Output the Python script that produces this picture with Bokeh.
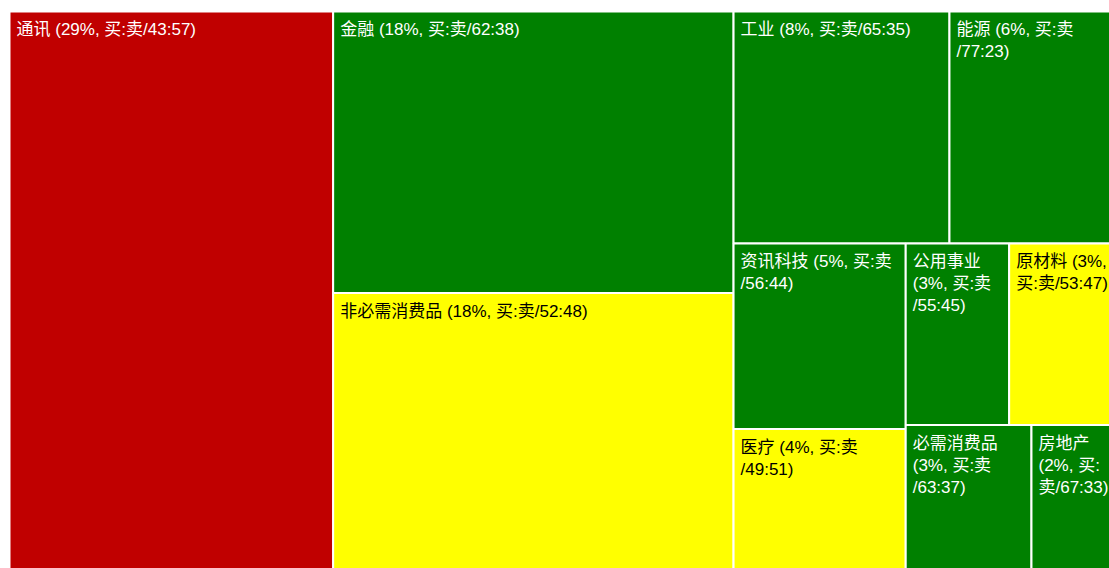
from bokeh.plotting import figure
from bokeh.models import ColumnDataSource, Range1d
from bokeh.core.properties import value
from bokeh.embed import file_html
from bokeh.resources import INLINE

# ---- data ----
sectors = ["通讯", "金融", "非必需消费品", "工业", "能源", "资讯科技", "医疗",
           "公用事业", "原材料", "必需消费品", "房地产"]
weight = [29.1, 18.0, 18.0, 8.0, 6.3, 5.1, 4.0, 3.0, 3.2, 3.0, 2.1]   # area share (%)
pct = [29, 18, 18, 8, 6, 5, 4, 3, 3, 3, 2]                           # shown share (%)
buy = [43, 62, 52, 65, 77, 56, 49, 55, 53, 63, 67]
sell = [57, 38, 48, 35, 23, 44, 51, 45, 47, 37, 33]

# ---- layout constants ----
TW, TH = 1110.0, 563.0          # full treemap size (px), partly beyond the window
FIG_W, FIG_H = 1109, 568
OX, OY = 9, 11                   # treemap origin on the page
FS = 17                          # font size px
PAD_X, PAD_Y = 7, 8.5


def squarify(sizes, x, y, dx, dy):
    def layoutrow(s, x, y, dx, dy):
        w = sum(s) / dy
        out = []
        for v in s:
            out.append((x, y, w, v / w)); y += v / w
        return out

    def layoutcol(s, x, y, dx, dy):
        h = sum(s) / dx
        out = []
        for v in s:
            out.append((x, y, v / h, h)); x += v / h
        return out

    def layout(s, x, y, dx, dy):
        return layoutrow(s, x, y, dx, dy) if dx >= dy else layoutcol(s, x, y, dx, dy)

    def leftover(s, x, y, dx, dy):
        if dx >= dy:
            w = sum(s) / dy
            return x + w, y, dx - w, dy
        h = sum(s) / dx
        return x, y + h, dx, dy - h

    def worst(s, x, y, dx, dy):
        return max(max(r[2] / r[3], r[3] / r[2]) for r in layout(s, x, y, dx, dy))

    if not sizes:
        return []
    if len(sizes) == 1:
        return layout(sizes, x, y, dx, dy)
    i = 1
    while i < len(sizes) and worst(sizes[:i], x, y, dx, dy) >= worst(sizes[:i + 1], x, y, dx, dy):
        i += 1
    cur, rem = sizes[:i], sizes[i:]
    return layout(cur, x, y, dx, dy) + squarify(rem, *leftover(cur, x, y, dx, dy))


ARIAL = {" ": .278, "(": .333, ")": .333, "%": .889, ",": .278, ":": .278, "/": .278}


def is_cjk(ch):
    return ord(ch) >= 0x2E80


def cw(ch):
    return FS if is_cjk(ch) else ARIAL.get(ch, .556) * FS


def tw(s):
    return sum(cw(c) for c in s.rstrip())


def wrap(s, avail):
    segs, cur = [], s[0]
    for i in range(1, len(s)):
        a, b = s[i - 1], s[i]
        brk = False
        if a == " ":
            brk = True
        elif b == " " or b in ",:)%" or a == "(":
            brk = False
        elif is_cjk(a) or is_cjk(b):
            brk = True
        if brk:
            segs.append(cur); cur = b
        else:
            cur += b
    segs.append(cur)
    lines, line = [], ""
    for sg in segs:
        if line and tw(line + sg) > avail:
            lines.append(line.rstrip()); line = sg
        else:
            line += sg
    lines.append(line.rstrip())
    return "\n".join(lines)


total = sum(weight)
areas = [w / total * TW * TH for w in weight]
rects = squarify(areas, 0.0, 0.0, TW, TH)


def color_for(b):
    if b >= 55:
        return "#008000"
    if b >= 45:
        return "#FFFF00"
    return "#C00000"


fill = [color_for(b) for b in buy]
tcol = ["black" if c == "#FFFF00" else "white" for c in fill]
labels = [f"{n} ({p}%, 买:卖/{b}:{s})" for n, p, b, s in zip(sectors, pct, buy, sell)]
wrapped = [wrap(lab, r[2] - 2 * PAD_X) for lab, r in zip(labels, rects)]

src = ColumnDataSource(dict(
    left=[r[0] for r in rects],
    right=[r[0] + r[2] for r in rects],
    top=[r[1] for r in rects],
    bottom=[r[1] + r[3] for r in rects],
    tx=[r[0] + PAD_X for r in rects],
    ty=[r[1] + PAD_Y for r in rects],
    fill=fill, tcol=tcol, label=wrapped,
))

p = figure(width=FIG_W, height=FIG_H, output_backend="svg", toolbar_location=None,
           x_axis_type=None, y_axis_type=None,
           x_range=Range1d(-OX, FIG_W - OX), y_range=Range1d(FIG_H - OY, -OY),
           min_border=0, min_border_left=0, min_border_right=0,
           min_border_top=0, min_border_bottom=0)
p.outline_line_color = None
p.grid.visible = False
p.background_fill_color = "white"
p.border_fill_color = "white"

p.quad(left="left", right="right", top="top", bottom="bottom", source=src,
       fill_color="fill", line_color="white", line_width=2)
p.text(x="tx", y="ty", text="label", source=src, text_color="tcol",
       text_font=value("Liberation Sans, Noto Sans CJK SC"),
       text_font_size=f"{FS}px", text_align="left", text_baseline="top",
       text_line_height=1.16)

open("out.html", "w").write(file_html(p, INLINE))
